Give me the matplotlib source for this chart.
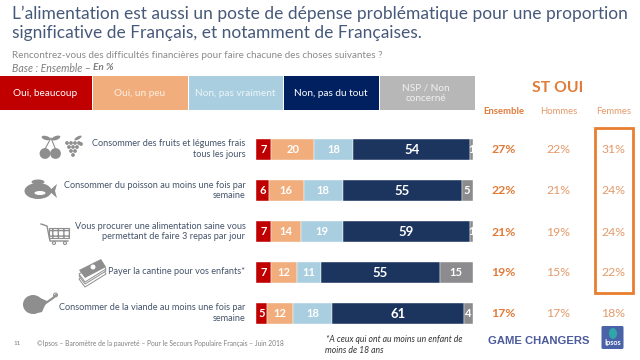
import matplotlib
matplotlib.use("Agg")
import matplotlib.pyplot as plt
from matplotlib.patches import Rectangle, Circle, Ellipse, Polygon, FancyBboxPatch

plt.rcParams['font.family'] = ['Lato', 'DejaVu Sans']

legend_labels = ["Oui, beaucoup", "Oui, un peu", "Non, pas vraiment", "Non, pas du tout", "NSP / Non\nconcerné"]
categories = ["Consommer des fruits et légumes frais\ntous les jours",
              "Consommer du poisson au moins une fois par\nsemaine",
              "Vous procurer une alimentation saine vous\npermettant de faire 3 repas par jour",
              "Payer la cantine pour vos enfants*",
              "Consommer de la viande au moins une fois par\nsemaine"]
oui_beaucoup = [7, 6, 7, 7, 5]
oui_peu = [20, 16, 14, 12, 12]
non_pas_vraiment = [18, 18, 19, 11, 18]
non_pas_du_tout = [54, 55, 59, 55, 61]
nsp = [1, 5, 1, 15, 4]
st_ensemble = [27, 22, 21, 19, 17]
st_hommes = [22, 21, 19, 15, 17]
st_femmes = [31, 24, 24, 22, 18]

series = [oui_beaucoup, oui_peu, non_pas_vraiment, non_pas_du_tout, nsp]
bar_colors = ["#C00000", "#F1AE7C", "#A9CEDF", "#1C355E", "#8C8C8F"]
legend_colors = ["#C00000", "#F1AE7C", "#A9CEDF", "#002060", "#B7B7B7"]
ORANGE = "#E07B39"
TXT = "#44546A"
GREY = "#8E8E8E"

fig = plt.figure(figsize=(6.4, 3.6), dpi=100)
ov = fig.add_axes([0, 0, 1, 1])
ov.set_xlim(0, 640); ov.set_ylim(360, 0); ov.axis("off")

# Title and subtitle
ov.text(12, 14, "L’alimentation est aussi un poste de dépense problématique pour une proportion",
        fontsize=12.5, color="#47597A", va="center", ha="left")
ov.text(12, 33, "significative de Français, et notamment de Françaises.",
        fontsize=12.5, color="#47597A", va="center", ha="left")
ov.text(12, 55, "Rencontrez-vous des difficultés financières pour faire chacune des choses suivantes ?",
        fontsize=7.1, color="#8A8A8A", va="center", ha="left")
ov.text(12, 68, "Base : Ensemble – ", fontsize=7.6, color="#7F7F7F", va="center", ha="left", style="italic")
ov.text(93, 68, "En %", fontsize=7.2, color="#7F7F7F", va="center", ha="left", style="italic", weight="bold")

# Legend boxes
box_x = [0, 93, 189, 284, 380]
box_w = [92, 94.5, 94, 95, 94.5]
for x, w, lab, c in zip(box_x, box_w, legend_labels, legend_colors):
    ov.add_patch(Rectangle((x, 76), w, 33.5, fc=c, ec="none"))
    ov.text(x + w / 2 - 1, 93, lab, fontsize=7.2, color="white", ha="center", va="center", linespacing=1.25,
            alpha=1 if c in ("#C00000", "#002060") else 0.8)

# ST OUI
ov.text(558, 88, "ST OUI", fontsize=11.3, weight="bold", color=ORANGE, ha="center", va="center")
for x, lab, wgt in zip([503.5, 558.5, 613.5], ["Ensemble", "Hommes", "Femmes"], ["bold", "normal", "normal"]):
    ov.text(x, 111, lab, fontsize=6.8, weight=wgt, color="#E39A6B" if wgt == "normal" else ORANGE, ha="center", va="center")

row_y = [149.5, 191, 232, 272.5, 313.5]
for y, cat, a, b, c in zip(row_y, categories, st_ensemble, st_hommes, st_femmes):
    ov.text(245.5, y - 0.5, cat, fontsize=6.6, color=TXT, ha="right", va="center", linespacing=1.25)
    ov.text(503.5, y, f"{a}%", fontsize=8.8, weight="bold", color=ORANGE, ha="center", va="center")
    ov.text(558.5, y, f"{b}%", fontsize=8.8, color="#E39A6B", ha="center", va="center")
    ov.text(613.5, y, f"{c}%", fontsize=8.8, color="#E39A6B", ha="center", va="center")

ov.add_patch(Rectangle((594.5, 127.5), 38.5, 165, fc="none", ec="#E87E2F", lw=2))

# Stacked bars
ax = fig.add_axes([256 / 640, 1 - 334.3 / 360, 216.5 / 640, (334.3 - 129.3) / 360])
ax.set_xlim(0, 100); ax.set_ylim(4.5, -0.5); ax.axis("off"); ax.patch.set_alpha(0)
left = [0] * 5
for s, col in zip(series, bar_colors):
    ax.barh(range(5), s, left=left, height=0.51, color=col, edgecolor="white", linewidth=0.3)
    for i, v in enumerate(s):
        big = v >= 50
        ax.text(left[i] + v / 2, i, str(v), color="white", ha="center", va="center",
                weight="bold", fontsize=9.5 if big else 8, clip_on=False)
    left = [l + v for l, v in zip(left, s)]

# Icons (decorative)
g = GREY
# cherries
ov.add_patch(Circle((45, 153.5), 5.4, fc=g)); ov.add_patch(Circle((55.5, 153.5), 5.4, fc=g))
ov.plot([45, 51, 55.5], [149, 138, 149], color=g, lw=0.8)
ov.add_patch(Ellipse((46, 138), 9, 4, angle=15, fc=g)); ov.add_patch(Ellipse((56, 138), 9, 4, angle=-20, fc=g))
# grapes
for cx, cy in [(67, 143), (71, 143), (75, 143), (79, 143), (69, 147), (73, 147), (77, 147), (81, 144),
               (71, 151), (75, 151), (73, 155)]:
    ov.add_patch(Circle((cx, cy), 1.9, fc=g))
ov.add_patch(Ellipse((78, 138), 8, 3, angle=-30, fc=g))
# fish
ov.add_patch(Ellipse((38, 191), 27, 16, fc=g))
ov.add_patch(Ellipse((38, 182), 13, 5, fc=g))
ov.add_patch(Polygon([[49, 191], [57, 184], [55, 191], [57, 198]], fc=g))
ov.add_patch(Ellipse((40, 193), 11, 4, fc="white"))
# cart
ov.plot([41, 47, 50, 68], [224, 226, 241, 241], color=g, lw=1)
ov.add_patch(Rectangle((49, 228), 20, 10, fc="none", ec=g, lw=0.8, hatch="+++"))
ov.add_patch(Circle((54, 243), 1.5, fc="white", ec=g, lw=0.8)); ov.add_patch(Circle((65, 243), 1.5, fc="white", ec=g, lw=0.8))
# banknotes
for dy in [7, 4, 2]:
    ov.add_patch(Polygon([[79, 272 + dy], [101, 259 + dy], [106, 267 + dy], [85, 280 + dy]], fc="white", ec=g, lw=0.7))
ov.add_patch(Polygon([[79, 270], [101, 259], [106, 267], [85, 278]], fc=g))
ov.add_patch(Circle((93, 267), 2.5, fc="white"))
# chicken leg
ov.add_patch(Ellipse((33, 304.5), 20, 19, fc=g))
ov.add_patch(Polygon([[36, 296], [47, 301], [42, 312], [33, 314]], fc=g))
ov.plot([43, 53, 56], [305, 298, 295], color=g, lw=1.5)
ov.add_patch(Circle((55.5, 295), 2, fc="white", ec=g, lw=0.7))

# Footer
ov.text(14, 343.5, "11", fontsize=4.6, color="#7F7F7F", va="center")
ov.text(37, 343.5, "©Ipsos – Baromètre de la pauvreté – Pour le Secours Populaire Français – Juin 2018",
        fontsize=4.75, color="#7F7F7F", va="center")
ov.text(326, 340, "*A ceux qui ont au moins un enfant de", fontsize=6.25, style="italic", color="#333333", va="center")
ov.text(325, 350.5, "moins de 18 ans", fontsize=6.25, style="italic", color="#333333", va="center")
ov.text(488, 341, "GAME CHANGERS", fontsize=8.1, weight="bold", family="Liberation Sans", color="#4B5A9B", va="center")
ov.add_patch(FancyBboxPatch((601.5, 326), 22, 23, boxstyle="round,pad=0,rounding_size=1.5", fc="#4A63A8", ec="none"))
ov.add_patch(Ellipse((613, 333.5), 8, 11, fc="#2FA7A8"))
ov.text(612.5, 343, "Ipsos", fontsize=5.2, weight="bold", color="white", ha="center", va="center")

fig.savefig("out.png", dpi=100)
